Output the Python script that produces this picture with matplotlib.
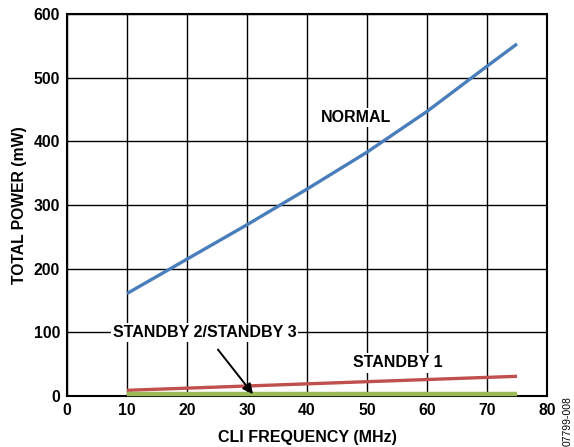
import matplotlib
matplotlib.use("Agg")
import matplotlib.pyplot as plt

freq = [10, 20, 30, 40, 50, 60, 70, 75]
normal = [161, 215, 269, 325, 383, 447, 518, 553]
standby1_freq = [10, 75]
standby1 = [9, 31]
standby23_freq = [10, 75]
standby23 = [3, 3]

xticks = [0, 10, 20, 30, 40, 50, 60, 70, 80]
yticks = [0, 100, 200, 300, 400, 500, 600]

plt.rcParams['font.family'] = ['Liberation Sans', 'DejaVu Sans']
plt.rcParams['font.weight'] = 'bold'

fig = plt.figure(figsize=(5.74, 4.47), dpi=100)
ax = fig.add_axes([0.1167, 0.114, 0.8363, 0.8547])

ax.plot(freq, normal, color='#4a7ebb', lw=2.4, solid_capstyle='butt', zorder=3)
ax.plot(standby1_freq, standby1, color='#c0504d', lw=2.4, solid_capstyle='butt', zorder=3)
ax.plot(standby23_freq, standby23, color='#9bbb59', lw=3.2, solid_capstyle='butt',
        zorder=3, clip_on=False)

ax.set_xlim(0, 80)
ax.set_ylim(0, 600)
ax.set_xticks(xticks)
ax.set_yticks(yticks)
ax.grid(True, color='black', lw=1.0, zorder=1)
ax.set_axisbelow(True)
ax.tick_params(length=0, labelsize=11.3, pad=5)
for lab in ax.get_xticklabels() + ax.get_yticklabels():
    lab.set_fontweight('bold')
for s in ax.spines.values():
    s.set_linewidth(1.5)
    s.set_color('black')

ax.set_xlabel('CLI FREQUENCY (MHz)', fontsize=11.5, fontweight='bold', labelpad=9)
ax.set_ylabel('TOTAL POWER (mW)', fontsize=11.3, fontweight='bold', labelpad=5)

bbox = dict(facecolor='white', edgecolor='none', pad=1.5)
ax.text(48.1, 438, 'NORMAL', ha='center', va='center', fontsize=11.5, fontweight='bold', bbox=bbox, zorder=4)
ax.text(55.1, 52, 'STANDBY 1', ha='center', va='center', fontsize=11.5, fontweight='bold', bbox=bbox, zorder=4)
ax.annotate('STANDBY 2/STANDBY 3', xy=(31, 3), xytext=(22.9, 100),
            ha='center', va='center', fontsize=11.5, fontweight='bold', bbox=bbox, zorder=4,
            arrowprops=dict(arrowstyle='-|>', color='black', lw=1.4, mutation_scale=15,
                            shrinkA=7, shrinkB=0))

fig.text(0.989, 0.003, '07799-008', rotation=90, fontsize=7.5, fontweight='normal',
         ha='center', va='bottom')

fig.savefig('out.png', dpi=100)
